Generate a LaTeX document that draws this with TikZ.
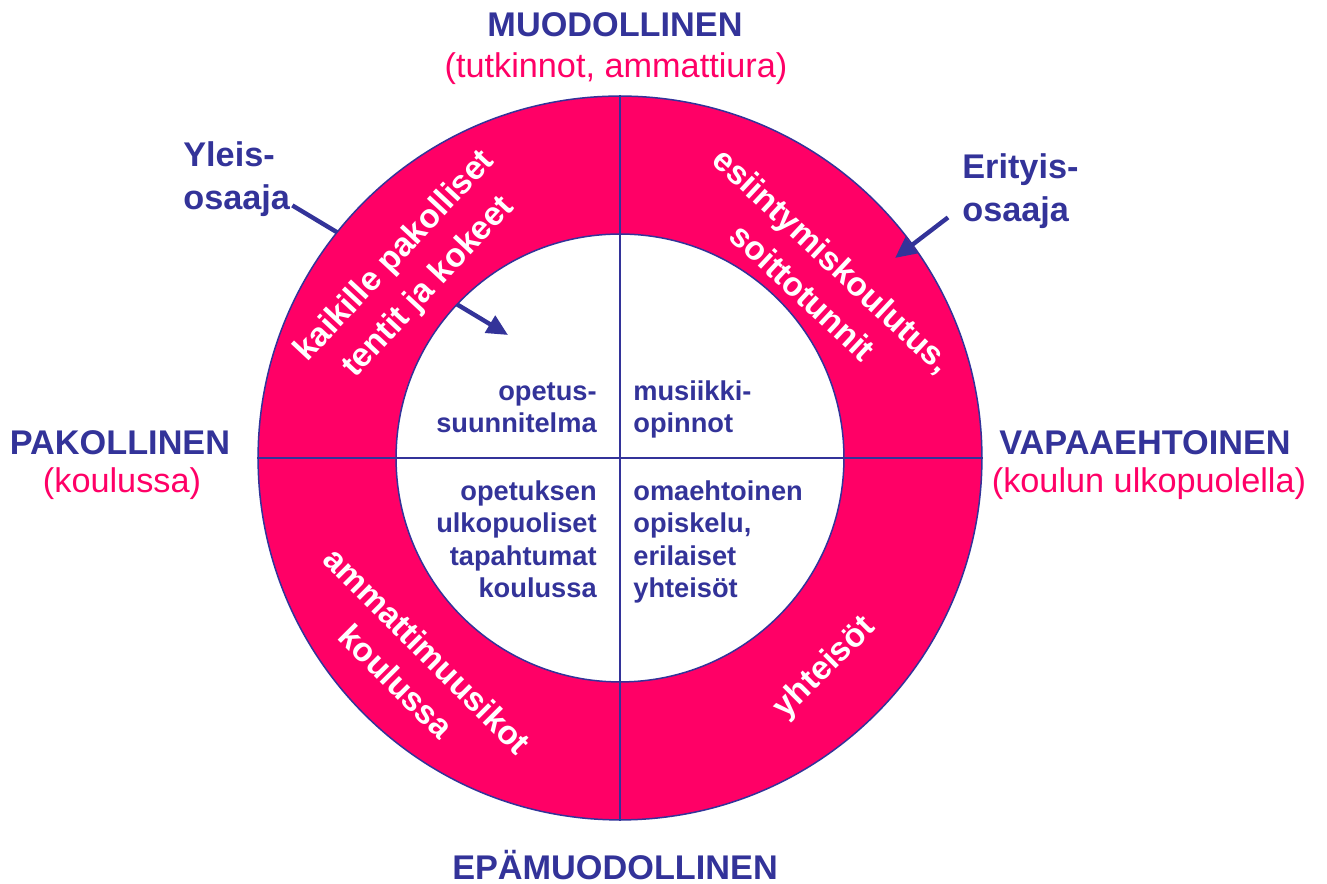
\documentclass[tikz,border=0pt]{standalone}
\usepackage{fontspec}
\setmainfont{Liberation Sans}
\usetikzlibrary{arrows.meta, positioning}
\definecolor{navy}{RGB}{51,51,153}
\definecolor{rose}{RGB}{255,0,102}

\begin{document}
\begin{tikzpicture}[x=0.02cm, y=0.02cm,
    axis_label/.style={font=\fontsize{19.5}{24.5}\selectfont\bfseries, text=navy, inner sep=0pt, anchor=base},
    sub_label/.style={font=\fontsize{19.5}{24}\selectfont, text=rose, inner sep=0pt, anchor=base},
    ring_text/.style={font=\fontsize{19}{25}\selectfont\bfseries, text=white, align=center, inner sep=0pt},
    quad_text/.style={font=\fontsize{15.5}{18.5}\selectfont\bfseries, text=navy, inner sep=0pt},
    ring_line/.style={draw=navy, line width=0.85pt},
    pointer/.style={draw=navy, line width=2.5pt, -{Triangle[length=12pt, width=11pt]}}]
  \useasboundingbox (0,0) rectangle (1327,884);
  \coordinate (mid) at (620,426);

  \node[axis_label, align=left, anchor=base west] (generalist) at (183,674) {Yleis-\\osaaja};
  \coordinate (generalist_tip) at (508,549);
  \draw[pointer] ([shift={(2,12)}]generalist.south east) -- (generalist_tip);

  \fill[rose, even odd rule] (mid) circle[radius=7.24cm] (mid) circle[radius=4.48cm];
  \node[circle, ring_line, minimum size=14.48cm, inner sep=0pt] (outer) at (mid) {};
  \node[circle, ring_line, minimum size=8.96cm, inner sep=0pt] (inner) at (mid) {};
  \draw[ring_line] (outer.north) -- (outer.south)
                   (outer.west) -- (outer.east);

  \node[ring_text, rotate=47, font=\fontsize{19}{26}\selectfont\bfseries] (mandatory) at ([shift={(-208,186)}]mid) {kaikille pakolliset\\tentit ja kokeet};
  \node[ring_text, rotate=-43] (performing) at ([shift={(198,182)}]mid) {esiintymiskoulutus,\\soittotunnit};
  \node[ring_text, rotate=-45] (professionals) at ([shift={(-208,-208)}]mid) {ammattimuusikot\\koulussa};
  \node[ring_text, rotate=45] (communities) at ([shift={(205,-210)}]mid) {yhteisöt};

  \node[quad_text, align=right, anchor=base east] (curriculum) at (597,451) {opetus-\\suunnitelma};
  \node[quad_text, align=left, anchor=base west] (studies) at (633,451) {musiikki-\\opinnot};
  \node[quad_text, align=right, anchor=base east] (events) at (597,286) {opetuksen\\ulkopuoliset\\tapahtumat\\koulussa};
  \node[quad_text, align=left, anchor=base west] (selfstudy) at (633,286) {omaehtoinen\\opiskelu,\\erilaiset\\yhteisöt};

  \node[axis_label] (formal) at (615,847) {MUODOLLINEN};
  \node[sub_label] (formal_sub) at (616,806) {(tutkinnot, ammattiura)};
  \node[axis_label] (informal) at (615,4) {EPÄMUODOLLINEN};
  \node[axis_label] (compulsory) at (120,429) {PAKOLLINEN};
  \node[sub_label] (compulsory_sub) at (122,391) {(koulussa)};
  \node[axis_label] (voluntary) at (1145,429) {VAPAAEHTOINEN};
  \node[sub_label] (voluntary_sub) at (1149,391) {(koulun ulkopuolella)};

  \node[axis_label, align=left, anchor=base west] (specialist) at (962,662) {Erityis-\\osaaja};
  \coordinate (specialist_tip) at (895,626);
  \draw[pointer] ([shift={(-14,12)}]specialist.south west) -- (specialist_tip);
\end{tikzpicture}
\end{document}
